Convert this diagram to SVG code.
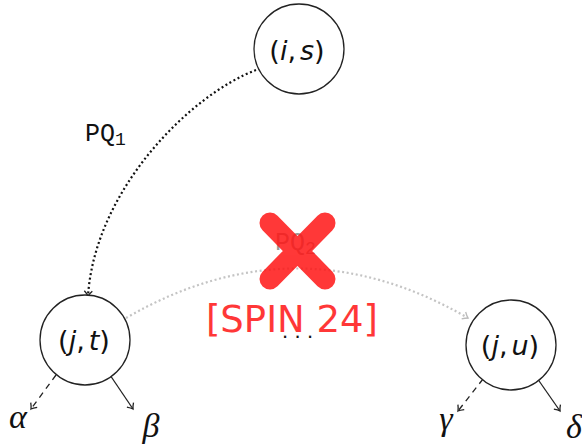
<svg xmlns="http://www.w3.org/2000/svg" width="582" height="447" viewBox="0 0 582 447">
<style>
.node{fill:#fff;stroke:#222;stroke-width:1.3}
.lbl{font-family:"DejaVu Sans",sans-serif;font-size:27px;fill:#111;text-anchor:middle}
.it{font-style:italic}
.greek{font-family:"Liberation Serif","DejaVu Serif",serif;font-style:italic;font-size:34px;fill:#111;text-anchor:middle}
.pq{font-family:"Liberation Mono",monospace;font-size:25px}
.edge{fill:none;stroke:#222;stroke-width:1.3}
.dash{stroke-dasharray:6 5}
.dot{fill:none;stroke:#111;stroke-width:2.2;stroke-dasharray:2 2.6}
.dotg{fill:none;stroke:#c4c4c4;stroke-width:2.2;stroke-dasharray:2 2.6}
</style>
<defs>
<marker id="ah" viewBox="-6 -5 8 10" markerWidth="8" markerHeight="10" markerUnits="userSpaceOnUse" orient="auto" refX="0" refY="0">
<path d="M-5,-4 Q-2,-1 0,0 Q-2,1 -5,4" fill="none" stroke="#222" stroke-width="1.3"/>
</marker>
<marker id="ahg" viewBox="-6 -5 8 10" markerWidth="8" markerHeight="10" markerUnits="userSpaceOnUse" orient="auto" refX="0" refY="0">
<path d="M-5,-4 Q-2,-1 0,0 Q-2,1 -5,4" fill="none" stroke="#bbb" stroke-width="1.3"/>
</marker>
</defs>
<g id="connectors">
<path class="dot" d="M256,70 C190,95 95,190 88,296" marker-end="url(#ah)"/>
<path class="dotg" d="M126,318 Q297,219 468,318" marker-end="url(#ahg)"/>
<path class="edge dash" d="M56,375 L31,409" marker-end="url(#ah)"/>
<path class="edge" d="M110,375 L133,409" marker-end="url(#ah)"/>
<path class="edge dash" d="M483,379 L458,411" marker-end="url(#ah)"/>
<path class="edge" d="M537,378 L560,411" marker-end="url(#ah)"/>
<text x="85" y="141" class="pq" fill="#111">PQ<tspan font-size="18" dy="4">1</tspan></text>
<text x="275" y="250" class="pq" fill="#999">PQ<tspan font-size="18" dy="4">2</tspan></text>
<text x="282" y="338" font-family="Liberation Sans,sans-serif" font-size="22" letter-spacing="6.4" fill="#111">...</text>
</g>
<g id="n-is">
<circle class="node" cx="299" cy="49" r="45"/>
<text class="lbl" x="297" y="60">(<tspan class="it">i</tspan>,<tspan class="it" dx="4">s</tspan>)</text>
</g>
<g id="n-jt">
<circle class="node" cx="85" cy="340" r="45"/>
<text class="lbl" x="84" y="350">(<tspan class="it">j</tspan>,<tspan class="it" dx="4">t</tspan>)</text>
</g>
<g id="n-ju">
<circle class="node" cx="511" cy="345" r="45"/>
<text class="lbl" x="510" y="355">(<tspan class="it">j</tspan>,<tspan class="it" dx="4">u</tspan>)</text>
</g>
<g id="leaves">
<text class="greek" x="18" y="428">α</text>
<text class="greek" x="151" y="437">β</text>
<text class="greek" x="446" y="430">γ</text>
<text class="greek" x="574" y="438">δ</text>
</g>
<g id="stamp" opacity="0.85">
<path d="M270,223 L325,279 M325,223 L270,279" stroke="#ff1515" stroke-width="21" stroke-linecap="round" fill="none"/>
<text x="292" y="332" font-family="DejaVu Sans,sans-serif" font-size="37" fill="#ff1515" text-anchor="middle">[SPIN 24]</text>
</g>
</svg>
